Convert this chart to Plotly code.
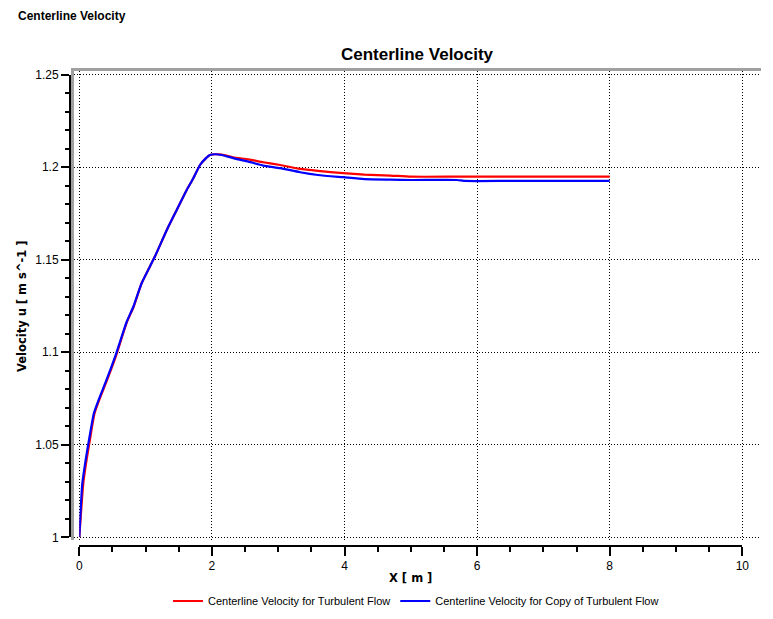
import plotly.graph_objects as go

#%% Data (X in m, velocity u in m/s)
x_turb = [0, 0.06, 0.11, 0.16, 0.23, 0.31, 0.41, 0.55, 0.72, 0.82, 0.94, 1.14, 1.32, 1.47,
          1.62, 1.72, 1.82, 1.90, 1.97, 2.05, 2.15, 2.32, 2.55, 2.775, 3.03, 3.33, 3.6, 3.98,
          4.3, 4.69, 5.0, 5.7, 6.5, 7.2, 8.0]
u_turb = [1.000, 1.029, 1.0418, 1.0526, 1.067, 1.0751, 1.0841, 1.0976, 1.1165, 1.1246, 1.1373,
          1.1517, 1.1661, 1.1769, 1.1877, 1.194, 1.2012, 1.2045, 1.2066, 1.207, 1.2068, 1.2054,
          1.2042, 1.2027, 1.2012, 1.1991, 1.1980, 1.1968, 1.1960, 1.1955, 1.1949, 1.1949, 1.1949,
          1.1949, 1.1949]

x_copy = [0, 0.045, 0.096, 0.146, 0.22, 0.30, 0.40, 0.54, 0.715, 0.815, 0.94, 1.14, 1.32, 1.47,
          1.62, 1.72, 1.82, 1.90, 1.97, 2.05, 2.15, 2.32, 2.55, 2.775, 3.03, 3.33, 3.6, 3.98,
          4.3, 4.69, 5.0, 5.7, 5.8, 6.5, 7.2, 8.0]
u_copy = [1.000, 1.029, 1.0418, 1.0526, 1.067, 1.0751, 1.0841, 1.0976, 1.1165, 1.1246, 1.1373,
          1.1517, 1.1661, 1.1769, 1.1877, 1.194, 1.2012, 1.2045, 1.2066, 1.207, 1.2066, 1.2049,
          1.2030, 1.2009, 1.1995, 1.1973, 1.1958, 1.1946, 1.1936, 1.1933, 1.1931, 1.1931, 1.1926,
          1.1926, 1.1926, 1.1926]

series_names = ["Centerline Velocity for Turbulent Flow",
                "Centerline Velocity for Copy of Turbulent Flow"]
x_range = [0, 10]
y_range = [1, 1.25]

#%% Pixel layout (page is 773 x 619)
W_PAGE, H_PAGE = 773, 619
L, R, T, B = 70, 761, 71, 546          # outer plot box (axis lines sit on L / B)
W, H = R - L, B - T
FRAME_L, FRAME_B = 74, 540             # grey frame / grid area
X0_PX, X10_PX = 79.3, 742.3            # pixel of x=0 and x=10
Y1_PX, Y125_PX = 537.3, 74.7           # pixel of u=1 and u=1.25

def fx(p):
    return (p - L) / W

def fy(p):
    return (B - p) / H

px_per_x = (X10_PX - X0_PX) / (x_range[1] - x_range[0])
px_per_y = (Y1_PX - Y125_PX) / (y_range[1] - y_range[0])
grid_xrange = [x_range[0] - (X0_PX - FRAME_L) / px_per_x, x_range[0] + (R - X0_PX) / px_per_x]
grid_yrange = [y_range[0] - (FRAME_B - Y1_PX) / px_per_y, y_range[0] + (Y1_PX - T) / px_per_y]

FONT = "Liberation Sans"
TITLE_FONT = "DejaVu Sans"
GREY = "#a0a0a0"

fig = go.Figure()
fig.add_trace(go.Scatter(x=x_turb, y=u_turb, name=series_names[0], mode="lines",
                         line=dict(color="#ff0000", width=2.2, shape="spline", smoothing=0.5),
                         xaxis="x2", yaxis="y2"))
fig.add_trace(go.Scatter(x=x_copy, y=u_copy, name=series_names[1], mode="lines",
                         line=dict(color="#0000ff", width=2.2, shape="spline", smoothing=0.5),
                         xaxis="x2", yaxis="y2"))
# invisible trace so the grid subplot exists
fig.add_trace(go.Scatter(x=x_range, y=y_range, mode="lines", line=dict(width=0),
                         opacity=0, showlegend=False, hoverinfo="skip"))

grid = dict(showgrid=True, gridcolor="black", gridwidth=1, griddash="1px,2px",
            zeroline=False, ticks="", showticklabels=False, fixedrange=True, automargin=False)

fig.update_layout(
    width=W_PAGE, height=H_PAGE,
    margin=dict(l=L, r=W_PAGE - R, t=T, b=H_PAGE - B, autoexpand=False),
    paper_bgcolor="white", plot_bgcolor="rgba(0,0,0,0)",
    font=dict(family=FONT, size=11, color="black"),
    showlegend=True,
    xaxis=dict(grid, domain=[fx(FRAME_L), 1], range=grid_xrange, tick0=0, dtick=2,
               showline=True, linecolor=GREY, linewidth=3, side="top", anchor="y"),
    yaxis=dict(grid, domain=[fy(FRAME_B), 1], range=grid_yrange, tick0=1, dtick=0.05,
               showline=True, linecolor=GREY, linewidth=3, anchor="x"),
    xaxis2=dict(domain=[fx(X0_PX), fx(X10_PX)], range=x_range, anchor="free", position=0,
                showgrid=False, zeroline=False, showline=True, linecolor="black", linewidth=2,
                ticks="outside", ticklen=9, tickwidth=1.5, tickcolor="black", tick0=0, dtick=2,
                minor=dict(ticks="outside", ticklen=5, tickwidth=1.5, tickcolor="black", dtick=0.5),
                tickfont=dict(family=FONT, size=12), fixedrange=True, automargin=False),
    yaxis2=dict(domain=[fy(Y1_PX), fy(Y125_PX)], range=y_range, anchor="free", position=0,
                showgrid=False, zeroline=False, showline=True, linecolor="black", linewidth=2,
                ticks="outside", ticklen=8, tickwidth=1.5, tickcolor="black", tick0=1, dtick=0.05,
                minor=dict(ticks="outside", ticklen=4, tickwidth=1.5, tickcolor="black", dtick=0.01),
                tickfont=dict(family=FONT, size=12), fixedrange=True, automargin=False),
    title=dict(text="<b>Centerline Velocity</b>", font=dict(family=FONT, size=17),
               xref="paper", x=fx(417), xanchor="center",
               yref="container", y=1 - 54 / H_PAGE, yanchor="middle"),
    legend=dict(orientation="h", xref="paper", x=fx(416), xanchor="center",
                yref="container", y=1 - 601 / H_PAGE, yanchor="middle",
                font=dict(family=FONT, size=11), bgcolor="rgba(0,0,0,0)"),
)

fig.add_annotation(text="<b>Centerline Velocity</b>", xref="paper", yref="paper",
                   x=fx(16), y=fy(16), xanchor="left", yanchor="middle", showarrow=False,
                   font=dict(family=FONT, size=12))
fig.add_annotation(text="<b>X [ m ]</b>", xref="paper", yref="paper",
                   x=fx(410.5), y=fy(578), xanchor="center", yanchor="middle", showarrow=False,
                   font=dict(family=TITLE_FONT, size=11.5))
fig.add_annotation(text="<b>Velocity u [ m s^-1 ]</b>", xref="paper", yref="paper",
                   x=fx(22), y=fy(306), xanchor="center", yanchor="middle", showarrow=False,
                   textangle=-90, font=dict(family=TITLE_FONT, size=11.5))

# the page body has a default 8px margin; drop it so the figure sits at (0, 0)
fig.write_html("out.html", config={"displayModeBar": False},
               post_script="document.body.style.margin = '0px';")
